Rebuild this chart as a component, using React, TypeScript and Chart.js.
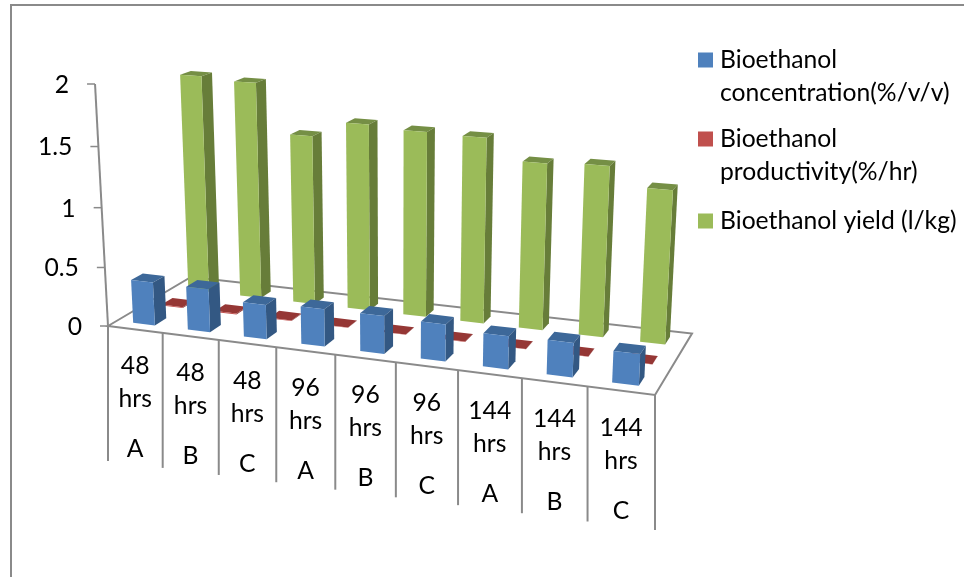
import React, { useEffect, useRef } from "react";
import { Chart, registerables } from "chart.js";

Chart.register(...registerables);

const timeLabels = ["48 hrs", "48 hrs", "48 hrs", "96 hrs", "96 hrs", "96 hrs", "144 hrs", "144 hrs", "144 hrs"];
const groupLabels = ["A", "B", "C", "A", "B", "C", "A", "B", "C"];
const concentration = [0.367, 0.364, 0.289, 0.309, 0.311, 0.301, 0.267, 0.274, 0.248];
const productivity = [0.008, 0.008, 0.006, 0.003, 0.003, 0.003, 0.002, 0.002, 0.002];
const yieldLkg = [1.9, 1.875, 1.46, 1.596, 1.57, 1.56, 1.39, 1.41, 1.26];

const seriesNames = ["Bioethanol concentration(%/v/v)", "Bioethanol productivity(%/hr)", "Bioethanol yield (l/kg)"];
const frontColors = ["#4F81BD", "#C0504D", "#9BBB59"];
const sideColors = ["#335883", "#8C3836", "#677D39"];
const topColors = ["#3D6899", "#953735", "#758F45"];
const legendLines = [["Bioethanol", "concentration(%/v/v)"], ["Bioethanol", "productivity(%/hr)"], ["Bioethanol yield (l/kg)"]];

const FONT = '24.7px Lato, "Open Sans", sans-serif';
const GRAY = "#8A8A8A";

// Floor quad of the 3D box: front-left, front-right, back-right, back-left.
const FL = [108, 326];
const FR = [655, 395];
const BR = [692, 333.5];
const BL = [191, 277];
// Vanishing point of the vertical edges, and the pixel row of the axis maximum.
const VP = [395, 5680];
const AXIS_TOP_Y = 84;

function makeProjection() {
  const dx1 = FR[0] - BR[0], dx2 = BL[0] - BR[0], sx = FL[0] - FR[0] + BR[0] - BL[0];
  const dy1 = FR[1] - BR[1], dy2 = BL[1] - BR[1], sy = FL[1] - FR[1] + BR[1] - BL[1];
  const det = dx1 * dy2 - dx2 * dy1;
  const g = (sx * dy2 - dx2 * sy) / det;
  const k = (dx1 * sy - sx * dy1) / det;
  const a = FR[0] - FL[0] + g * FR[0];
  const b = BL[0] - FL[0] + k * BL[0];
  const d = FR[1] - FL[1] + g * FR[1];
  const e = BL[1] - FL[1] + k * BL[1];
  const c = (AXIS_TOP_Y - FL[1]) / (VP[1] - AXIS_TOP_Y);
  return (u: number, w: number, h: number): [number, number] => {
    const den = 1 + g * u + k * w + c * h;
    return [
      (a * u + b * w + VP[0] * c * h + FL[0]) / den,
      (d * u + e * w + VP[1] * c * h + FL[1]) / den,
    ];
  };
}

const project = makeProjection();

function poly(ctx: CanvasRenderingContext2D, pts: [number, number][], fill: string) {
  ctx.beginPath();
  pts.forEach((p, i) => (i ? ctx.lineTo(p[0], p[1]) : ctx.moveTo(p[0], p[1])));
  ctx.closePath();
  ctx.fillStyle = fill;
  ctx.fill();
}

function segment(ctx: CanvasRenderingContext2D, p: number[], q: number[]) {
  ctx.beginPath();
  ctx.moveTo(p[0], p[1]);
  ctx.lineTo(q[0], q[1]);
  ctx.stroke();
}

// Draws the frame, slanted value axis, floor and category table behind the bars.
const box3d = {
  id: "box3d",
  beforeDatasetsDraw(chart: any) {
    const { ctx, scales } = chart;
    const { x, y } = scales;
    const y0 = y.getPixelForValue(y.min);
    const ySpan = y0 - y.getPixelForValue(y.max);
    ctx.save();
    ctx.strokeStyle = GRAY;
    ctx.lineWidth = 2;
    segment(ctx, [10, 5], [964, 5]);
    segment(ctx, [11, 4], [11, 577]);

    ctx.fillStyle = "#FFFFFF";
    ctx.lineWidth = 2;
    ctx.beginPath();
    [FL, FR, BR, BL].forEach((p, i) => (i ? ctx.lineTo(p[0], p[1]) : ctx.moveTo(p[0], p[1])));
    ctx.closePath();
    ctx.fill();
    ctx.stroke();

    segment(ctx, project(0, 0, 0), project(0, 0, 1));
    ctx.font = FONT;
    ctx.textBaseline = "middle";
    ctx.textAlign = "right";
    y.ticks.forEach((t: any) => {
      const h = (y0 - y.getPixelForValue(t.value)) / ySpan;
      const p = project(0, 0, h);
      ctx.lineWidth = 1.5;
      segment(ctx, p, [p[0] - 8, p[1]]);
      ctx.fillStyle = "#000000";
      ctx.fillText(String(t.value), p[0] - 26, p[1] + 1);
    });

    const n = timeLabels.length;
    ctx.lineWidth = 2;
    for (let i = 0; i <= n; i++) {
      const p = project(i / n, 0, 0);
      segment(ctx, p, [p[0], p[1] + 135]);
    }
    ctx.textAlign = "center";
    ctx.fillStyle = "#000000";
    timeLabels.forEach((label, i) => {
      const u = (x.getPixelForValue(i) - x.left) / x.width;
      const p = project(u, 0, 0);
      const [top, bottom] = label.split(" ");
      ctx.fillText(top, p[0], p[1] + 37);
      ctx.fillText(bottom, p[0], p[1] + 70);
      ctx.fillText(groupLabels[i], p[0], p[1] + 120);
    });
    ctx.restore();
  },
  // Replaces each flat bar with a prism, using the geometry the bar controller computed.
  beforeDatasetDraw(chart: any, args: any) {
    const { ctx, scales } = chart;
    const { x, y } = scales;
    const j = args.index;
    const y0 = y.getPixelForValue(y.min);
    const ySpan = y0 - y.getPixelForValue(y.max);
    const depthCenter = (j + 0.5) / 3;
    const depthHalf = 0.4 / 3 / 2;
    args.meta.data.forEach((bar: any) => {
      const uc = (bar.x - x.left) / x.width;
      const uh = bar.width / 2 / x.width;
      const h = (y0 - bar.y) / ySpan;
      const [u0, u1] = [uc - uh, uc + uh];
      const [w0, w1] = [depthCenter - depthHalf, depthCenter + depthHalf];
      poly(ctx, [project(u0, w0, h), project(u1, w0, h), project(u1, w1, h), project(u0, w1, h)], topColors[j]);
      poly(ctx, [project(u1, w0, 0), project(u1, w1, 0), project(u1, w1, h), project(u1, w0, h)], sideColors[j]);
      poly(ctx, [project(u0, w0, 0), project(u1, w0, 0), project(u1, w0, h), project(u0, w0, h)], frontColors[j]);
    });
    return false;
  },
  // Legend with wrapped names; swatches sit on the first line of each entry.
  afterDraw(chart: any) {
    const { ctx } = chart;
    const rows = [60, 139, 221];
    ctx.save();
    ctx.font = FONT;
    ctx.textAlign = "left";
    ctx.textBaseline = "middle";
    chart.data.datasets.forEach((ds: any, i: number) => {
      ctx.fillStyle = ds.backgroundColor;
      ctx.fillRect(698, rows[i] - 7.5, 15, 15);
      ctx.fillStyle = "#000000";
      legendLines[i].forEach((line, k) => ctx.fillText(line, 720, rows[i] + k * 33));
    });
    ctx.restore();
  },
};

export default function App() {
  const ref = useRef<HTMLCanvasElement>(null);
  useEffect(() => {
    const chart = new Chart(ref.current as HTMLCanvasElement, {
      type: "bar",
      data: {
        labels: timeLabels,
        datasets: [concentration, productivity, yieldLkg].map((data, i) => ({
          label: seriesNames[i],
          data,
          backgroundColor: frontColors[i],
          grouped: false,
          barPercentage: 0.4,
          categoryPercentage: 1,
        })),
      },
      options: {
        responsive: false,
        animation: false,
        events: [],
        plugins: { legend: { display: false }, tooltip: { enabled: false } },
        scales: {
          x: { grid: { display: false }, border: { display: false }, ticks: { display: false } },
          y: {
            min: 0,
            max: 2,
            grid: { display: false },
            border: { display: false },
            ticks: { display: false, stepSize: 0.5 },
          },
        },
      },
      plugins: [box3d],
    } as any);
    return () => chart.destroy();
  }, []);
  return (
    <div style={{ position: "absolute", left: 0, top: 0, width: 964, height: 577, background: "#FFFFFF" }}>
      <canvas ref={ref} width={964} height={577} style={{ display: "block" }} />
    </div>
  );
}
